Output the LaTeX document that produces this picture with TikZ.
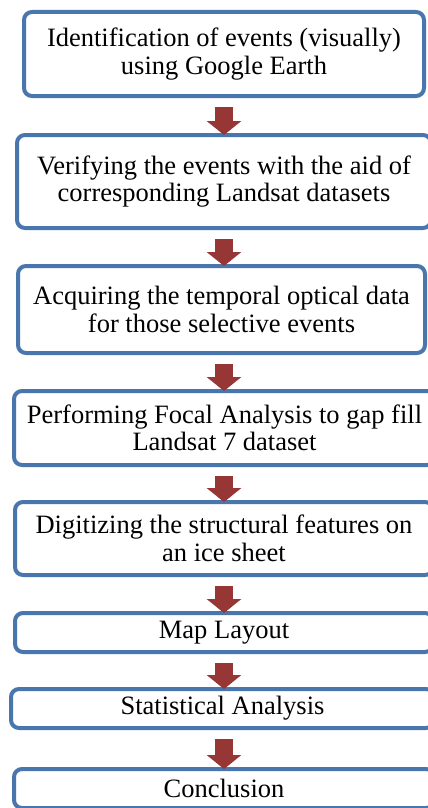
\documentclass[tikz,border=0pt]{standalone}
\usepackage{fontspec}
\setmainfont{Liberation Serif}
\usepackage{xcolor}
\definecolor{boxblue}{RGB}{74,118,174}
\definecolor{arrowred}{RGB}{150,55,53}
\usepackage{tikz}
\usetikzlibrary{arrows.meta}
\tikzset{
    stepbox/.style={draw=boxblue, line width=4pt, rounded corners=8pt, fill=white, align=center, inner sep=0pt, font=\fontsize{26.5}{27.5}\selectfont},
    flow/.style={arrowred, line width=18pt, shorten <=9pt, shorten >=-2pt, -{Triangle[width=34pt, length=14pt]}}
}

\begin{document}
\begin{tikzpicture}[x=1pt, y=-1pt]
          \useasboundingbox (0,0) rectangle (428,808);
          \coordinate (axis) at (224,0);

          \node[stepbox, minimum width=400pt, minimum height=84pt] (identify-events) at (224,54)
            {Identification of events (visually)\\using Google Earth};
          \node[stepbox, minimum width=414pt, minimum height=93pt] (verify-events) at (224,181.5)
            {Verifying the events with the aid of\\corresponding Landsat datasets};
          \node[stepbox, minimum width=407pt, minimum height=87pt] (acquire-data) at (221.5,309.5)
            {Acquiring the temporal optical data\\for those selective events};
          \node[stepbox, minimum width=421pt, minimum height=74pt] (gap-fill) at (224.5,428)
            {Performing Focal Analysis to gap fill\\Landsat 7 dataset};
          \node[stepbox, minimum width=418pt, minimum height=73pt] (digitize) at (224,538.5)
            {Digitizing the structural features on\\an ice sheet};
          \node[stepbox, minimum width=418pt, minimum height=39pt] (map-layout) at (224,632.5) {Map Layout};
          \node[stepbox, minimum width=423pt, minimum height=39pt] (stats) at (222.5,708.5) {Statistical Analysis};
          \node[stepbox, minimum width=420pt, minimum height=39pt] (conclusion) at (224,788.5) {Conclusion};

          \draw[flow] (identify-events.south -| axis) -- (verify-events.north -| axis);
          \draw[flow] (verify-events.south -| axis) -- (acquire-data.north -| axis);
          \draw[flow] (acquire-data.south -| axis) -- (gap-fill.north -| axis);
          \draw[flow] (gap-fill.south -| axis) -- (digitize.north -| axis);
          \draw[flow] (digitize.south -| axis) -- (map-layout.north -| axis);
          \draw[flow] (map-layout.south -| axis) -- (stats.north -| axis);
          \draw[flow] (stats.south -| axis) -- (conclusion.north -| axis);
        \end{tikzpicture}
\end{document}
